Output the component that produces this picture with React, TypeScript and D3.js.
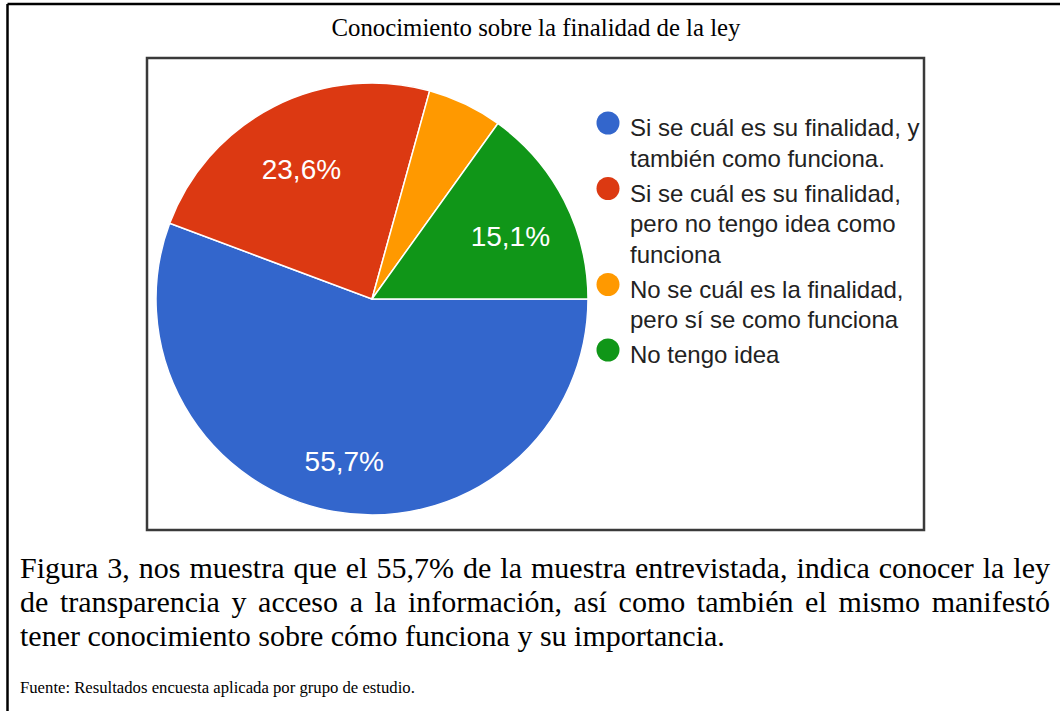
import { useEffect, useRef } from "react";
import * as d3 from "d3";

// survey answers (legend text already broken into lines as in the chart)
const categories = [
  ["Si se cuál es su finalidad, y", "también como funciona."],
  ["Si se cuál es su finalidad,", "pero no tengo idea como", "funciona"],
  ["No se cuál es la finalidad,", "pero sí se como funciona"],
  ["No tengo idea"],
];
const values = [55.7, 23.6, 5.6, 15.1];
const colors = ["#3366cc", "#dc3912", "#ff9900", "#109618"];

const title = "Conocimiento sobre la finalidad de la ley";
const captionLines = [
  "Figura 3, nos muestra que el 55,7% de la muestra entrevistada, indica conocer la ley",
  "de transparencia y acceso a la información, así como también el mismo manifestó",
  "tener conocimiento sobre cómo funciona y su importancia.",
];
const source = "Fuente: Resultados encuesta aplicada por grupo de estudio.";

const W = 1060;
const H = 711;

function App() {
  const captionRef = useRef<SVGGElement>(null);

  // chart box
  const box = { left: 147, top: 58, right: 924, bottom: 530 };
  const cx = 372;
  const cy = 299;
  const radius = 216;

  const pie = d3
    .pie<number>()
    .sort(null)
    .startAngle(Math.PI / 2)
    .endAngle(Math.PI / 2 + 2 * Math.PI);
  const arcs = pie(values);
  const arc = d3.arc<d3.PieArcDatum<number>>().innerRadius(0).outerRadius(radius);
  const labelArc = d3
    .arc<d3.PieArcDatum<number>>()
    .innerRadius(radius * 0.72)
    .outerRadius(radius * 0.72);

  // legend line positions
  const legendX = 608;
  const lineH = 30.5;
  const entryGap = 4.5;
  let y = 127;
  const legendRows = categories.map((lines) => {
    const row = { y, lines };
    y += lines.length * lineH + entryGap;
    return row;
  });

  // justified caption, word by word
  useEffect(() => {
    const g = d3.select(captionRef.current);
    g.selectAll("*").remove();
    const left = 20;
    const right = 1050;
    const fs = 30;
    captionLines.forEach((line, i) => {
      const words = line.split(" ");
      const baseline = 578 + i * 34;
      const nodes = words.map((w) =>
        g
          .append("text")
          .attr("y", baseline)
          .attr("font-family", "'Liberation Serif', 'Times New Roman', serif")
          .attr("font-size", fs)
          .attr("fill", "#000")
          .text(w)
      );
      const widths = nodes.map((n) => (n.node() as SVGTextElement).getComputedTextLength());
      const total = d3.sum(widths);
      const last = i === captionLines.length - 1;
      const gap = last ? fs * 0.25 : (right - left - total) / (words.length - 1);
      let x = left;
      nodes.forEach((n, k) => {
        n.attr("x", x);
        x += widths[k] + gap;
      });
    });
  }, []);

  return (
    <svg
      width={W}
      height={H}
      style={{ position: "absolute", left: 0, top: 0, background: "#fff" }}
    >
      {/* outer frame (top and left edges only) */}
      <line x1={7.5} y1={4} x2={W} y2={4} stroke="#000" strokeWidth={2.5} />
      <line x1={7.5} y1={4} x2={7.5} y2={H} stroke="#000" strokeWidth={2.5} />

      <text
        x={536}
        y={36}
        textAnchor="middle"
        fontFamily="'Liberation Serif', 'Times New Roman', serif"
        fontSize={24.8}
        fill="#000"
      >
        {title}
      </text>

      <rect
        x={box.left}
        y={box.top}
        width={box.right - box.left}
        height={box.bottom - box.top}
        fill="#fff"
        stroke="#3a3a3a"
        strokeWidth={2.5}
      />

      <g transform={`translate(${cx},${cy})`}>
        {arcs.map((a, i) => (
          <path key={i} d={arc(a) ?? ""} fill={colors[i]} stroke="#fff" strokeWidth={1.5} />
        ))}
        {arcs.map((a, i) => {
          if (a.data < 7) return null;
          const [lx, ly] = labelArc.centroid(a);
          return (
            <text
              key={i}
              x={lx}
              y={ly + 9}
              textAnchor="middle"
              dominantBaseline="central"
              fontFamily="'Liberation Sans', Arial, sans-serif"
              fontSize={28}
              fill="#fff"
            >
              {d3.format(".1f")(a.data).replace(".", ",") + "%"}
            </text>
          );
        })}
      </g>

      <g fontFamily="'Liberation Sans', Arial, sans-serif" fontSize={24} fill="#222">
        {legendRows.map((row, i) => (
          <g key={i}>
            <circle cx={legendX} cy={row.y - 4} r={11.5} fill={colors[i]} />
            {row.lines.map((l, k) => (
              <text key={k} x={630} y={row.y + k * lineH + 3} dominantBaseline="middle">
                {l}
              </text>
            ))}
          </g>
        ))}
      </g>

      <g ref={captionRef} />

      <text
        x={20}
        y={693}
        fontFamily="'Liberation Serif', 'Times New Roman', serif"
        fontSize={16.7}
        fill="#000"
      >
        {source}
      </text>
    </svg>
  );
}

export default App;
